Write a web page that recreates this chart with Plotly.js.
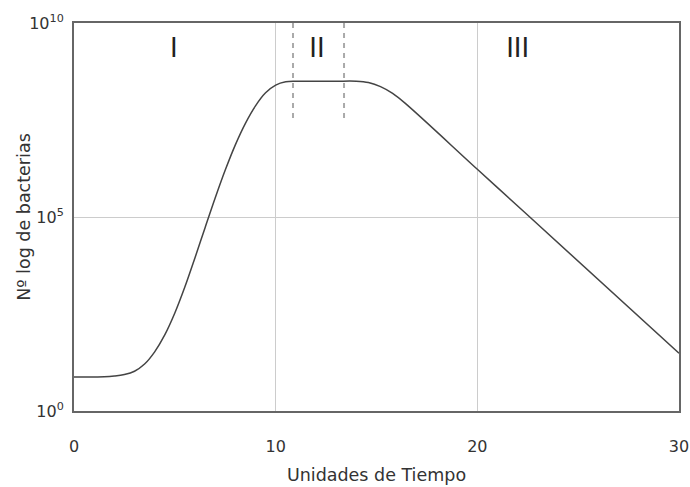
<!DOCTYPE html>
<html>
<head>
<meta charset="utf-8">
<script src="https://cdn.plot.ly/plotly-3.0.1.min.js"></script>
<style>html,body{margin:0;padding:0;background:#fff;}#chart{width:690px;height:487px;}</style>
</head>
<body>
<div id="chart"></div>
<script>
// Time (x) and log10 of number of bacteria
var tiempo = [0, 1.0, 1.5, 2.0, 2.5, 3.0, 3.5, 4.0, 4.5, 5.0, 5.5, 6.0, 6.5, 7.0, 7.5, 8.0, 8.5, 9.0, 9.5, 10.0, 10.5, 11.0, 12.0, 13.0, 14.0, 14.6, 15.2, 15.8, 16.4, 20.0, 22.26, 30];
var logBacterias = [0.876, 0.877, 0.88, 0.90, 0.94, 1.025, 1.21, 1.525, 1.96, 2.525, 3.20, 3.95, 4.725, 5.49, 6.21, 6.86, 7.415, 7.865, 8.20, 8.40, 8.485, 8.50, 8.50, 8.50, 8.50, 8.465, 8.36, 8.185, 7.94, 6.23, 5.16, 1.49];

// Phase boundaries (dashed) and phase labels
var faseLimites = [10.86, 13.39];
var faseLimiteLog = [10, 7.45];
var faseEtiquetas = ['I', 'II', 'III'];
var faseEtiquetaX = [4.95, 12.05, 22.0];
var faseEtiquetaLog = 9.3;

// Axis ticks
var xTicks = [0, 10, 20, 30];
var yTickExp = [0, 5, 10];

var pow10 = function (v) { return Math.pow(10, v); };

var traces = [];
faseLimites.forEach(function (xv) {
  traces.push({
    x: [xv, xv],
    y: faseLimiteLog.map(pow10),
    mode: 'lines',
    line: {color: '#aaaaaa', width: 2, dash: '5px,5px'},
    hoverinfo: 'skip',
    showlegend: false
  });
});
traces.push({
  x: tiempo,
  y: logBacterias.map(pow10),
  mode: 'lines',
  line: {color: '#444444', width: 1.5, shape: 'spline', smoothing: 1},
  showlegend: false
});
traces.push({
  x: faseEtiquetaX,
  y: faseEtiquetaX.map(function () { return pow10(faseEtiquetaLog); }),
  mode: 'text',
  text: faseEtiquetas,
  textfont: {family: 'DejaVu Sans', size: 26, color: '#222222'},
  hoverinfo: 'skip',
  showlegend: false
});

var layout = {
  width: 690,
  height: 487,
  margin: {l: 74, r: 11, t: 23, b: 76},
  paper_bgcolor: '#ffffff',
  plot_bgcolor: '#ffffff',
  showlegend: false,
  font: {family: 'DejaVu Sans', color: '#333333'},
  xaxis: {
    range: [0, 30],
    tickvals: xTicks,
    ticktext: xTicks.map(String),
    ticks: '',
    ticklabelstandoff: 20,
    tickfont: {family: 'DejaVu Sans', size: 16, color: '#333333'},
    showgrid: true,
    gridcolor: '#cccccc',
    gridwidth: 1,
    zeroline: false,
    showline: true,
    mirror: true,
    linecolor: '#666666',
    linewidth: 2,
    title: {text: 'Unidades de Tiempo', font: {family: 'DejaVu Sans', size: 17.5, color: '#333333'}, standoff: 14}
  },
  yaxis: {
    type: 'log',
    range: [0, 10],
    tickvals: yTickExp.map(pow10),
    ticktext: yTickExp.map(function (e) { return '10<sup>' + e + '</sup>'; }),
    ticks: '',
    ticklabelstandoff: 5,
    tickfont: {family: 'DejaVu Sans', size: 16, color: '#333333'},
    showgrid: true,
    gridcolor: '#cccccc',
    gridwidth: 1,
    zeroline: false,
    showline: true,
    mirror: true,
    linecolor: '#666666',
    linewidth: 2
  },
  annotations: [{
    text: 'Nº log de bacterias',
    xref: 'paper', yref: 'paper',
    x: -0.083, y: 0.5,
    xanchor: 'center', yanchor: 'middle',
    textangle: -90,
    showarrow: false,
    font: {family: 'DejaVu Sans', size: 17.5, color: '#333333'}
  }]
};

Plotly.newPlot('chart', traces, layout, {displayModeBar: false, staticPlot: true});
</script>
</body>
</html>
